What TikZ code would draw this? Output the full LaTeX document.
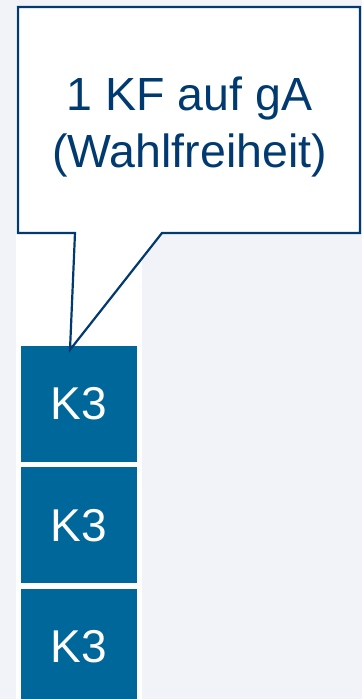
\documentclass[tikz,border=0pt]{standalone}
\usepackage{fontspec}
\setmainfont{Liberation Sans}
\usepackage{xcolor}
\usetikzlibrary{positioning}

\definecolor{pagebg}{HTML}{F1F3F8}
\definecolor{kblue}{HTML}{00679A}
\definecolor{navy}{HTML}{003A70}

\begin{document}
\begin{tikzpicture}[x=1pt,y=1pt,node distance=5pt]
  \tikzstyle{kbox}=[fill=kblue,draw=none,text=white,minimum width=116pt,
                    minimum height=116pt,inner sep=0pt,
                    font=\fontsize{46}{50}\selectfont]
  \tikzstyle{notebox}=[fill=white,draw=navy,line width=2.2pt,line join=miter]
  \tikzstyle{notetext}=[text=navy,align=center,inner sep=0pt,
                        font=\fontsize{46.5}{57}\selectfont]

  \clip (0,0) rectangle (362,699);
  \fill[pagebg] (0,0) rectangle (362,699);
  \fill[white] (16,0) rectangle (142,692);

  \node[kbox] (k1) at (79,295) {K3};
  \node[kbox] (k2) [below=of k1] {K3};
  \node[kbox] (k3) [below=of k2] {K3};

  % callout with pointer down to the first K3
  \coordinate (tip) at ([xshift=-9pt,yshift=-4pt]k1.north);
  \draw[notebox] (18,692) -- (360,692) -- (360,466) -- (162,466)
        -- (tip) -- (75,466) -- (18,466) -- cycle;
  \node[notetext] (note) at (189.5,572.5) {1 KF auf gA\\(Wahlfreiheit)};
\end{tikzpicture}
\end{document}
